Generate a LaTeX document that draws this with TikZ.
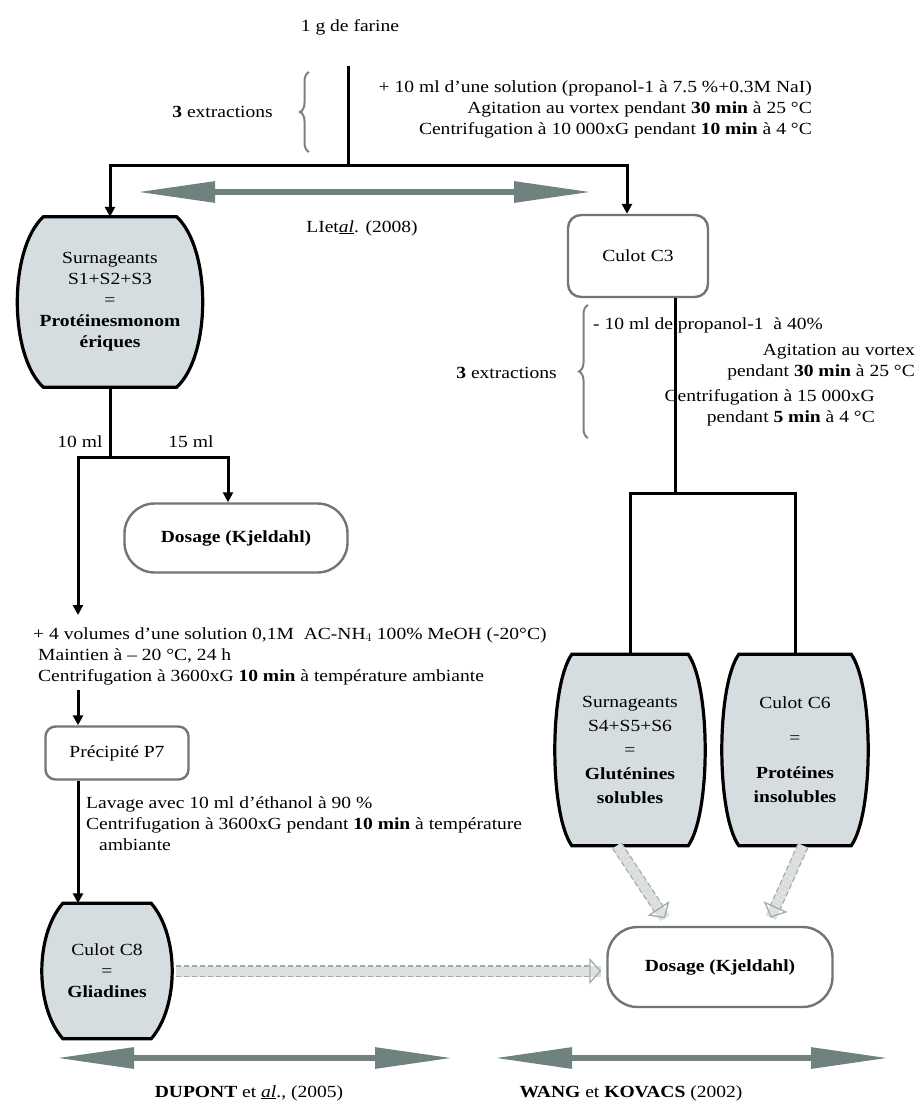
\documentclass[tikz,border=0pt]{standalone}
\usepackage{fontspec}
\setmainfont{Liberation Serif}[FakeStretch=1.15]
\usetikzlibrary{arrows.meta,positioning,calc,decorations.pathreplacing,backgrounds}
\definecolor{boxfill}{RGB}{214,221,225}
\definecolor{boxgray}{RGB}{110,118,118}
\definecolor{refgray}{RGB}{112,130,128}
\definecolor{bracegray}{RGB}{120,130,128}
\definecolor{dashline}{RGB}{165,170,170}
\definecolor{dashfill}{RGB}{222,225,225}

\newcommand{\barrelshape}[2]{%
  \path[barrel] ($(#1.north west)+(#2,0)$) -- ($(#1.north east)+(-#2,0)$)
    .. controls ($(#1.north east)+(#2/3,32)$) and ($(#1.south east)+(#2/3,-32)$) .. ($(#1.south east)+(-#2,0)$)
    -- ($(#1.south west)+(#2,0)$)
    .. controls ($(#1.south west)+(-#2/3,-32)$) and ($(#1.north west)+(-#2/3,32)$) .. cycle;}

\begin{document}
\begin{tikzpicture}[x=1pt, y=-1pt,
    txt/.style={font=\fontsize{17}{21}\selectfont, inner sep=0pt, align=center},
    flow/.style={line width=3pt},
    flowarrow/.style={flow, -{Triangle[length=10pt, width=10pt]}},
    etape/.style={txt, draw=boxgray, line width=2.4pt, rounded corners=13pt, fill=white},
    dosage/.style={txt, draw=boxgray, line width=2.4pt, rounded corners=30pt, fill=white},
    barrel/.style={draw=black, line width=3.2pt, fill=boxfill},
    accolade/.style={draw=bracegray, line width=2pt, decorate, decoration={brace, amplitude=9pt}},
    refline/.style={draw=refgray, line width=6pt, {Triangle[length=78pt, width=20pt]}-{Triangle[length=78pt, width=20pt]}},
    fatdash/.style={preaction={draw=dashfill, line width=11pt, -}, draw=dashline, line width=1.3pt, dash pattern=on 5pt off 3pt, double=dashfill, double distance=9pt, -{Triangle[open, length=12pt, width=26pt]}}
]
\useasboundingbox (0,0) rectangle (923,1108);

\node[txt] (farine) at (350,27) {1 g de farine};
\node[txt, anchor=east] (ext1) at (273,112) {\textbf{3} extractions};
\node[txt, align=right, anchor=north east] (cond1) at (812,80) {+ 10 ml d'une solution (propanol-1 à 7.5 \%+0.3M NaI)\\Agitation au vortex pendant \textbf{30 min} à 25 °C\\Centrifugation à 10 000xG pendant \textbf{10 min} à 4 °C};
\node[txt] (li) at (362,228) {LIet\underline{\textit{al}}. (2008)};

\node[txt, minimum width=185pt, minimum height=170pt] (surn1) at (110,302) {Surnageants\\S1+S2+S3\\=\\\textbf{Protéinesmonom}\\\textbf{ériques}};
\node[etape, minimum width=140pt, minimum height=82pt] (culot3) at (638,256) {Culot C3};

\node[txt, anchor=east] (ext2) at (557,373) {\textbf{3} extractions};
\node[txt, anchor=west] (cond2a) at (593,325) {- 10 ml de propanol-1 \ à 40\%};
\node[txt, align=right, anchor=east] (cond2b) at (915,362) {Agitation au vortex\\pendant \textbf{30 min} à 25 °C};
\node[txt, align=right, anchor=east] (cond2c) at (875,408) {Centrifugation à 15 000xG\\pendant \textbf{5 min} à 4 °C};

\node[txt] (ml10) at (80,442) {10 ml};
\node[txt] (ml15) at (191,442) {15 ml};
\node[dosage, minimum width=223pt, minimum height=69pt] (dos1) at (236,538) {\textbf{Dosage (Kjeldahl)}};

\node[txt, align=left, anchor=north west] (cond3) at (33,627) {+ 4 volumes d'une solution 0,1M \ AC-NH$_4$ 100\% MeOH (-20°C)\\\hspace*{5pt}Maintien à – 20 °C, 24 h\\\hspace*{5pt}Centrifugation à 3600xG \textbf{10 min} à température ambiante};
\node[etape, rounded corners=10pt, minimum width=143pt, minimum height=53pt] (pre7) at (117,753) {Précipité P7};
\node[txt, align=left, anchor=north west] (cond4) at (86,796) {Lavage avec 10 ml d'éthanol à 90 \%\\Centrifugation à 3600xG pendant \textbf{10 min} à température\\\hspace*{13pt}ambiante};
\node[txt, minimum width=130pt, minimum height=135pt] (c8) at (107,971) {Culot C8\\=\\\textbf{Gliadines}};

\node[txt, font=\fontsize{17}{24}\selectfont, minimum width=150pt, minimum height=191pt] (surn2) at (630,750) {Surnageants\\S4+S5+S6\\=\\\textbf{Gluténines}\\\textbf{solubles}};
\node[txt, font=\fontsize{17}{24}\selectfont, minimum width=146pt, minimum height=191pt] (culot6) at (795,750) {Culot C6\\[11pt]=\\[11pt]\textbf{Protéines}\\\textbf{insolubles}};
\node[dosage, minimum width=225pt, minimum height=80pt] (dosR) at (720,967) {\textbf{Dosage (Kjeldahl)}};

\node[txt] (dupont) at (249,1093) {\textbf{DUPONT} et \underline{\textit{al}}., (2005)};
\node[txt] (wang) at (631,1093) {\textbf{WANG} et \textbf{KOVACS} (2002)};

\coordinate (depart) at (348,66);
\coordinate (split1) at (348,165);
\coordinate (split2) at (675,493);
\coordinate (split3) at ($(surn1.south)+(0,70)$);
\coordinate (fin10) at (78,615);
\coordinate (reprise) at (78,690);
\coordinate (li-a) at (137,192);
\coordinate (li-b) at (592,192);
\coordinate (du-a) at (56,1058);
\coordinate (du-b) at (453,1058);
\coordinate (wa-a) at (494,1058);
\coordinate (wa-b) at (889,1058);

\begin{pgfonlayer}{background}
  \barrelshape{surn1}{26}
  \barrelshape{surn2}{17}
  \barrelshape{culot6}{17}
  \barrelshape{c8}{21}
\end{pgfonlayer}

\draw[accolade] (309,152) -- (309,72);
\draw[accolade] (588,438) -- (588,305);

\draw[flow] (depart) -- (split1);
\draw[flowarrow] (split1) -| (surn1.north);
\draw[flowarrow] (split1) -| ([xshift=-11pt]culot3.north);
\draw[flow] ([xshift=37pt]culot3.south) -- (split2);
\draw[flow] (split2) -| (surn2.north);
\draw[flow] (split2) -| (culot6.north);
\draw[flow] (surn1.south) -- (split3);
\draw[flowarrow] (split3) -| ([xshift=-8pt]dos1.north);
\draw[flowarrow] (split3) -| (fin10);
\draw[flowarrow] (reprise) -- (reprise |- pre7.north);
\draw[flowarrow] (pre7.south -| reprise) -- (c8.north -| reprise);

\draw[fatdash, shorten <=4pt, shorten >=5pt] (c8.east) -- (c8.east -| dosR.west);
\draw[fatdash, shorten >=9pt] ([xshift=-13pt]surn2.south) -- ([xshift=-50pt]dosR.north);
\draw[fatdash, shorten >=9pt] ([xshift=8pt]culot6.south) -- ([xshift=47pt]dosR.north);

\draw[refline] (li-a) -- (li-b);
\draw[refline] (du-a) -- (du-b);
\draw[refline] (wa-a) -- (wa-b);
\end{tikzpicture}
\end{document}
